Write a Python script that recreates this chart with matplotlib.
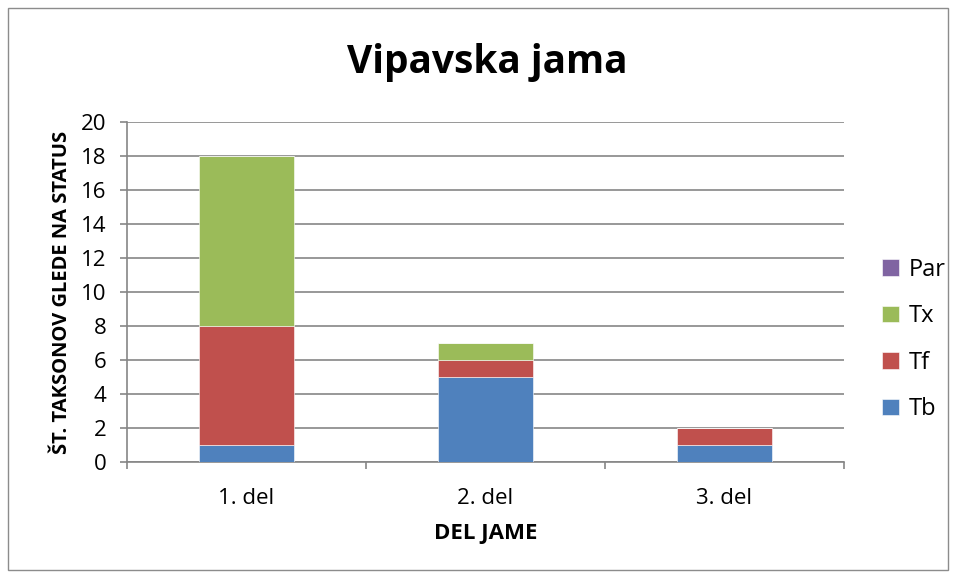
import matplotlib
matplotlib.use("Agg")
import matplotlib.pyplot as plt
from matplotlib.patches import Rectangle
import numpy as np

plt.rcParams['font.family'] = ['Open Sans', 'DejaVu Sans']

categories = ["1. del", "2. del", "3. del"]
tb = [1, 5, 1]
tf = [7, 1, 1]
tx = [10, 1, 0]
par = [0, 0, 0]

series = [("Tb", tb, "#4F81BD"), ("Tf", tf, "#C0504D"),
          ("Tx", tx, "#9BBB59"), ("Par", par, "#8064A2")]

fig = plt.figure(figsize=(9.56, 5.78), dpi=100)
fig.patches.append(Rectangle((8 / 956, 8 / 578), 940 / 956, 562 / 578,
                             transform=fig.transFigure, fill=False,
                             edgecolor="#8C8C8C", linewidth=1))
ax = fig.add_axes([127 / 956, 1 - 462 / 578, 717 / 956, 340 / 578])

x = np.arange(len(categories))
bottom = np.zeros(len(categories))
handles = []
for name, vals, color in series:
    b = ax.bar(x, vals, width=0.395, bottom=bottom, color=color,
               edgecolor="white", linewidth=0.4, label=name, zorder=3)
    handles.append(b)
    bottom += np.array(vals)

ax.set_xlim(-0.5, 2.5)
ax.set_ylim(0, 20)
ax.set_yticks(range(0, 21, 2))
ax.set_xticks(x)
ax.set_xticklabels(categories)
ax.set_xticks([-0.5, 0.5, 1.5, 2.5], minor=True)
ax.tick_params(axis="x", which="major", length=0, pad=19, labelsize=16)
ax.tick_params(axis="x", which="minor", length=5, color="#868686", width=1.2)
ax.tick_params(axis="y", length=5, color="#868686", width=1.2, labelsize=16, pad=10)
ax.grid(axis="y", color="#868686", linewidth=1.2, zorder=0)
for s in ["top", "right"]:
    ax.spines[s].set_visible(False)
for s in ["left", "bottom"]:
    ax.spines[s].set_color("#868686")
    ax.spines[s].set_linewidth(1.2)

ax.set_xlabel("DEL JAME", fontsize=16, fontweight="bold", labelpad=10)
ax.set_ylabel("ŠT. TAKSONOV GLEDE NA STATUS", fontsize=14.5, fontweight="bold", labelpad=6)
fig.text(487 / 956, 1 - 62 / 578, "Vipavska jama", fontsize=28, fontweight="bold",
         ha="center", va="center")

leg = ax.legend(handles[::-1], [s[0] for s in series][::-1], loc="center left",
                bbox_to_anchor=(1.024, 0.36), frameon=False, fontsize=17,
                handlelength=0.7, handleheight=0.7, handletextpad=0.4,
                labelspacing=0.95)

fig.savefig("out.png", dpi=100)
